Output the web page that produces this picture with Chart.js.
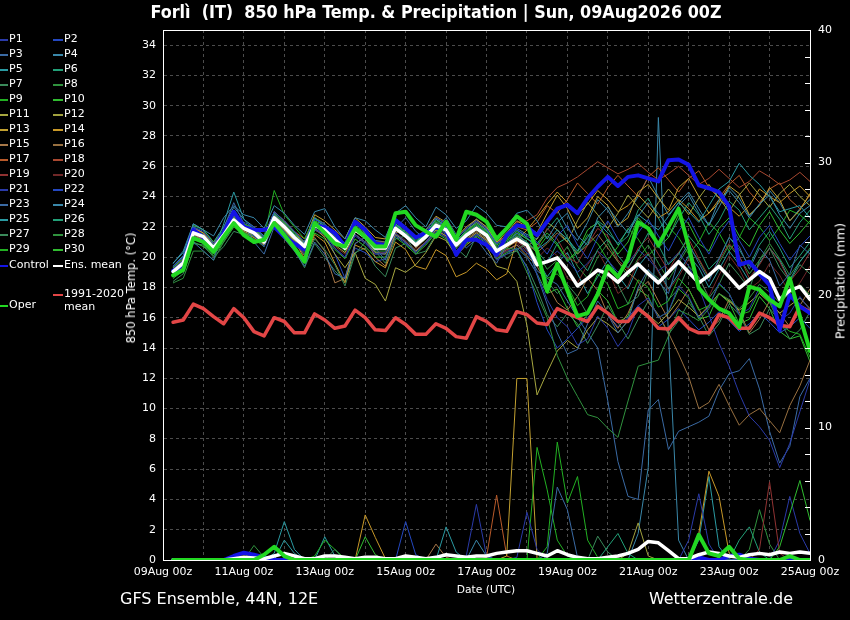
<!DOCTYPE html>
<html>
<head>
<meta charset="utf-8">
<script src="https://cdn.jsdelivr.net/npm/chart.js@4.4.1/dist/chart.umd.min.js"></script>
<style>
  body{margin:0;background:#000;}
  #wrap{position:relative;width:850px;height:620px;background:#000;overflow:hidden;color:#fff;font-family:"DejaVu Sans",sans-serif;}
  #c{position:absolute;left:0;top:0;}
  .t{position:absolute;white-space:nowrap;color:#fff;}
  .rot{transform:translate(-50%,-50%) rotate(-90deg);}
  .leg{position:absolute;font-size:11px;line-height:13px;white-space:nowrap;}
</style>
</head>
<body>
<div id="wrap">
  <canvas id="c" width="850" height="620"></canvas>
  <div class="t" style="left:0;width:872px;top:1px;text-align:center;font:bold 17.8px 'DejaVu Sans Condensed','DejaVu Sans',sans-serif;">Forlì&nbsp; (IT)&nbsp; 850 hPa Temp. &amp; Precipitation | Sun, 09Aug2026 00Z</div>
  <div class="t rot" style="left:131px;top:288px;font-size:11.5px;">850 hPa Temp. (°C)</div>
  <div class="t rot" style="left:840px;top:281px;font-size:12.5px;">Precipitation (mm)</div>
  <div class="t" style="left:486px;top:589px;transform:translate(-50%,-50%);font-size:10.7px;">Date (UTC)</div>
  <div class="t" style="left:120px;top:589px;font-size:16px;">GFS Ensemble, 44N, 12E</div>
  <div class="t" style="right:57px;top:589px;font-size:16px;">Wetterzentrale.de</div>
  <div id="legend"></div>
</div>
<script>
// x axis: 6-hourly steps, 09Aug 06z .. 25Aug 00z (hours after 09Aug 00z)
const hours = Array.from({length:64}, (_, k) => 6*(k+1));
const dateTicks = ['09Aug 00z','11Aug 00z','13Aug 00z','15Aug 00z','17Aug 00z','19Aug 00z','21Aug 00z','23Aug 00z','25Aug 00z'];

// 850 hPa temperature, ensemble members P1..P30
const tempMembers = [
 [19.2,19.8,21.4,21.0,20.3,21.6,22.8,22.1,21.4,20.7,22.3,21.7, 20.9,20.2,21.8,21.5,20.6,20.0,21.5,21.0,20.2,20.3,21.6,21.0,
  20.3,21.0,21.9,21.5,20.4,21.0,21.5,21.0,19.8,20.2,20.6,20.0, 18.9,17.2,16.0,15.4,14.2,14.6,16.1,15.3,14.1,15.0,16.8,17.3,
  16.0,16.4,18.1,17.4,16.0,16.7,18.3,17.6,16.2,16.6,18.0,17.1,15.8,16.3,17.4,16.5],
 [19.4,20.0,22.0,21.7,20.9,21.8,22.9,22.3,22.0,21.3,23.0,22.4, 21.7,21.0,22.5,22.2,21.4,20.9,22.2,21.7,20.9,20.9,22.3,21.8,
  21.2,21.8,22.6,22.2,21.2,21.9,22.4,21.9,20.9,21.3,21.8,21.4, 21.0,20.2,21.4,22.1,20.8,19.9,21.3,22.4,21.2,20.3,21.6,22.5,
  21.4,20.4,21.7,22.6,21.3,20.2,21.5,22.4,21.1,20.0,21.3,22.1,20.9,19.8,20.7,21.4],
 [18.9,19.4,21.0,20.4,19.8,21.9,23.6,22.2,21.0,20.2,22.0,21.2, 20.4,19.4,21.0,20.2,18.9,18.6,20.9,21.3,20.6,19.8,21.9,22.6,
  21.7,21.2,21.9,22.6,21.5,20.6,21.2,20.3,19.6,20.8,21.6,20.9, 18.8,16.9,15.0,13.6,13.9,15.6,17.1,16.2,15.0,15.8,18.0,19.2,
  18.4,17.6,19.8,20.9,19.6,18.4,19.9,21.3,20.7,19.2,20.6,19.8,18.1,18.9,20.8,20.2],
 [19.6,20.4,22.2,21.8,21.4,22.6,23.4,22.8,22.6,21.9,23.4,22.9, 22.1,21.5,23.0,23.2,22.0,21.2,22.6,22.4,21.8,21.3,22.9,23.4,
  22.6,22.0,23.3,22.8,21.9,22.4,23.4,22.9,22.1,22.0,22.9,23.1, 22.4,21.2,22.3,22.9,21.4,20.8,22.6,23.3,22.4,21.6,22.7,23.6,
  22.9,22.0,23.4,24.1,22.9,22.1,23.8,24.4,23.6,22.6,23.5,24.1,22.8,21.9,22.9,23.4],
 [19.6,20.3,22.0,21.2,20.3,22.2,24.3,22.5,21.8,21.2,22.8,22.1, 21.4,20.9,22.6,22.0,21.3,20.8,22.4,21.6,20.8,20.6,22.2,21.6,
  21.0,21.6,22.5,22.0,21.0,21.8,22.3,21.8,20.9,21.3,21.8,21.3, 20.5,21.0,21.8,21.2,20.4,21.3,22.3,21.6,20.9,21.8,22.8,22.3,
  21.8,22.7,23.6,23.0,22.3,23.4,24.5,25.0,26.2,25.4,24.8,24.0,23.0,23.2,23.4,22.6],
 [19.1,19.7,21.8,21.5,20.8,21.5,22.6,22.0,21.7,21.1,22.9,22.2, 21.5,20.8,22.3,22.0,21.2,20.6,22.0,21.5,20.7,20.7,22.1,21.5,
  20.9,21.5,22.3,21.9,20.9,21.6,22.1,21.6,20.5,21.0,21.4,21.0, 20.4,19.6,20.9,21.3,19.9,19.1,20.5,21.2,20.1,19.3,20.4,21.6,
  20.8,19.5,20.2,21.4,20.6,19.2,19.9,21.3,20.5,19.4,20.8,21.7,20.6,19.3,20.1,21.0],
 [18.4,18.9,20.9,20.8,20.0,20.7,21.7,21.5,21.4,20.9,22.6,21.6, 20.6,19.8,21.2,20.5,19.5,18.1,20.2,21.0,20.4,19.6,21.2,21.4,
  20.2,20.4,21.5,21.9,20.6,20.0,21.4,21.9,20.7,19.9,20.5,20.9, 19.8,18.4,17.6,18.2,17.4,16.2,17.6,18.9,18.2,16.9,17.4,19.1,
  18.6,17.2,17.9,19.4,18.7,17.3,18.2,19.6,18.8,17.9,19.8,20.6,19.3,18.4,19.5,18.9],
 [18.3,18.6,20.4,20.4,19.8,21.0,22.0,21.6,21.4,20.9,22.5,21.9, 21.2,20.6,22.0,21.7,21.0,20.4,21.7,21.2,20.4,20.4,21.8,21.3,
  20.7,21.2,22.0,21.6,20.6,21.3,21.8,21.3,20.2,20.6,20.5,19.0, 17.5,16.0,13.5,12.0,10.8,9.6,9.4,8.7,8.1,10.5,12.8,13.0,
  13.2,14.8,16.5,16.2,15.8,16.6,17.6,17.2,16.6,17.3,18.2,17.7,17.0,17.6,18.2,17.5],
 [18.9,19.4,21.7,21.4,20.7,21.7,22.9,22.2,21.9,21.3,24.4,22.8, 22.0,21.2,22.6,22.2,21.4,20.7,22.0,21.4,20.7,20.6,22.1,21.6,
  21.0,21.5,22.4,22.0,21.0,21.7,22.2,21.7,20.6,21.1,21.5,21.0, 19.8,18.6,18.9,18.1,16.8,17.4,18.9,18.2,16.6,16.9,18.5,18.0,
  16.7,17.1,18.6,17.9,16.5,16.8,18.2,17.6,16.2,16.4,17.7,17.0,15.6,15.1,14.9,13.4],
 [19.3,19.9,22.1,21.8,21.0,21.8,22.7,22.2,21.9,21.3,22.9,22.3, 21.6,21.0,22.4,22.1,21.4,20.9,22.1,21.6,20.9,20.8,22.2,21.7,
  21.1,21.6,22.5,22.1,21.1,21.7,22.2,21.7,20.8,21.2,21.7,21.2, 20.8,21.6,20.9,19.8,20.4,21.8,22.3,21.1,20.2,21.0,22.6,21.9,
  20.6,21.3,22.8,22.2,20.9,20.4,21.9,22.6,21.4,20.7,22.1,23.0,21.8,20.9,21.6,22.4],
 [18.8,19.3,21.3,21.0,20.4,21.3,22.3,21.8,21.5,20.9,22.5,21.8, 21.1,20.4,21.9,21.3,20.2,19.3,20.3,18.6,18.2,17.1,19.3,19.0,
  19.5,20.3,21.4,21.1,20.1,20.8,21.3,20.7,19.4,19.2,18.4,15.5, 10.9,12.4,13.8,14.5,14.0,15.2,16.0,15.6,15.0,15.8,16.7,16.2,
  15.6,16.3,17.2,16.7,16.1,16.8,17.6,17.1,16.5,17.0,17.6,17.0,16.3,16.8,17.3,16.6],
 [19.0,19.5,21.5,21.2,20.5,21.3,22.2,21.7,21.4,20.8,22.3,21.7, 21.0,20.5,21.8,21.5,20.8,20.3,21.5,21.0,20.3,20.2,21.5,21.0,
  20.4,21.0,21.8,21.4,20.4,21.1,21.6,21.1,20.2,20.6,21.1,20.7, 21.2,22.3,21.8,21.0,22.4,23.6,22.8,21.9,22.9,24.1,23.3,22.6,
  23.6,24.5,23.7,22.8,23.9,24.8,23.9,23.0,24.1,24.9,24.1,23.3,24.2,24.8,24.0,23.4],
 [19.1,19.8,21.9,21.6,20.9,21.7,22.6,22.0,21.8,21.2,22.7,22.1, 21.5,21.0,22.8,22.4,21.8,21.2,22.6,22.0,21.3,21.2,22.5,22.0,
  21.3,21.8,22.7,22.3,21.3,22.0,22.5,22.0,21.0,21.6,22.4,22.0, 21.6,22.9,24.1,23.2,21.9,22.6,24.0,23.4,22.1,22.6,24.3,24.8,
  23.9,23.1,24.6,25.2,24.0,22.9,23.6,24.7,24.2,22.8,23.4,24.6,23.8,22.4,23.1,24.2],
 [18.9,19.5,21.4,21.1,20.3,21.2,22.3,21.6,21.3,20.8,22.4,21.8, 21.1,19.9,21.5,21.0,19.6,18.3,20.8,20.5,19.7,19.3,21.0,20.5,
  19.4,19.2,20.5,20.1,18.7,19.0,19.6,19.2,18.5,18.9,21.1,21.8, 22.6,23.5,24.3,23.6,22.8,23.5,24.4,23.8,23.0,23.4,24.1,23.4,
  22.6,23.0,23.8,23.2,22.4,22.9,23.8,23.3,22.7,23.4,24.5,24.0,23.6,24.2,24.7,24.0],
 [19.0,19.6,21.5,21.3,20.7,21.6,22.6,22.0,21.7,21.2,22.6,22.0, 21.0,20.1,21.3,20.4,18.3,18.6,20.9,21.3,20.0,19.4,21.6,21.8,
  20.6,21.2,22.0,21.6,20.6,21.2,21.7,21.2,20.1,20.5,20.8,20.1, 19.4,18.2,17.0,16.5,17.4,18.6,17.8,16.2,15.3,16.3,17.8,18.4,
  17.1,15.9,16.8,17.9,16.6,15.2,15.8,17.2,16.4,15.0,15.9,17.1,16.3,15.4,16.8,17.9],
 [19.2,19.7,21.6,21.4,20.7,21.5,22.5,22.0,21.7,21.1,22.7,22.1, 21.4,20.8,22.2,21.9,21.2,20.6,21.9,21.4,20.6,20.6,21.9,21.4,
  20.8,21.4,22.2,21.8,20.8,21.5,22.0,21.5,20.5,20.9,21.4,21.0, 20.3,20.9,21.6,21.0,20.2,20.8,21.5,20.6,19.7,19.0,18.4,17.0,
  16.2,15.0,13.6,12.1,10.0,10.4,11.6,10.2,8.9,9.6,10.0,9.2,8.4,10.2,11.5,13.2],
 [19.3,19.9,21.9,21.6,20.9,21.7,22.7,22.2,21.9,21.3,23.0,22.4, 21.7,21.2,22.6,22.2,21.5,20.9,22.3,21.8,21.0,21.0,22.4,21.9,
  21.2,21.8,22.6,22.2,21.2,21.9,22.4,21.9,21.0,21.4,22.0,21.8, 22.3,23.4,22.9,23.8,24.9,24.2,23.5,24.6,25.4,24.7,24.0,25.3,
  25.9,25.1,24.3,25.2,25.7,24.6,23.9,24.8,25.4,24.3,23.6,24.5,24.9,23.8,23.2,24.1],
 [19.0,19.6,21.7,21.5,20.8,21.6,22.7,22.1,21.8,21.2,22.8,22.2, 21.5,20.9,22.3,22.0,21.3,20.7,22.0,21.5,20.8,20.7,22.0,21.5,
  20.9,21.5,22.3,21.9,20.9,21.7,22.3,21.8,20.9,21.4,22.3,22.4, 22.8,23.9,24.6,24.9,25.3,25.8,26.3,25.9,25.5,25.8,26.2,25.6,
  25.1,25.5,26.0,25.4,24.8,25.2,25.8,25.2,24.6,25.0,25.7,25.3,24.8,25.1,25.6,25.0],
 [19.1,19.6,21.5,21.2,20.5,21.4,22.3,21.8,21.5,20.9,22.4,21.9, 21.2,20.5,22.0,21.7,21.0,20.5,21.8,21.2,20.5,20.5,21.8,21.3,
  20.7,21.2,22.0,21.7,20.7,21.3,21.8,21.3,20.3,20.7,21.0,20.6, 20.6,21.9,21.2,20.0,19.6,20.8,21.9,21.4,19.8,19.2,20.6,21.3,
  20.2,19.1,20.3,21.2,19.9,18.7,19.8,20.9,20.1,18.6,19.5,20.6,19.7,18.4,19.2,20.3],
 [18.9,19.4,21.3,21.0,20.3,21.2,22.2,21.7,21.4,20.8,22.3,21.7, 21.0,20.3,21.8,21.4,20.7,20.2,21.5,21.0,20.3,20.3,21.6,21.1,
  20.5,21.0,21.8,21.4,20.4,21.1,21.6,21.1,20.0,20.4,20.9,20.4, 19.9,20.6,20.1,18.6,18.3,19.5,20.4,19.2,17.6,18.1,19.8,20.3,
  19.0,17.8,18.7,19.9,18.6,17.4,18.8,20.1,19.2,17.9,18.4,19.6,18.8,17.6,18.3,19.4],
 [19.0,19.5,21.5,21.1,20.4,21.3,22.4,21.8,21.4,20.9,22.4,21.8, 21.1,20.5,21.9,21.5,20.6,20.0,21.4,20.9,20.2,20.2,21.5,21.0,
  20.4,20.9,21.7,21.3,20.3,21.0,21.5,21.0,20.0,20.4,20.8,20.3, 19.4,19.8,20.4,19.8,19.0,19.6,20.4,19.8,19.0,19.6,20.5,19.9,
  19.1,19.6,20.3,19.4,18.0,16.2,14.3,12.8,11.0,9.5,8.8,7.9,6.1,7.7,9.8,11.9],
 [19.2,19.8,21.8,21.4,20.6,21.5,22.6,22.0,21.7,21.1,22.6,22.0, 21.2,20.5,22.0,21.6,20.2,18.6,20.6,20.3,19.7,19.9,21.4,20.9,
  20.4,21.0,21.8,21.4,20.4,21.1,21.6,21.1,20.1,20.4,20.5,19.3, 17.0,15.2,14.0,14.6,15.3,16.0,16.8,16.2,15.4,16.0,16.8,16.1,
  15.4,15.9,16.6,15.9,15.2,15.7,16.4,15.8,15.1,15.6,16.3,15.7,15.0,15.4,16.0,15.3],
 [19.3,20.0,22.0,21.6,20.8,21.7,22.7,22.1,21.8,21.2,22.8,22.2, 21.4,20.7,22.2,21.9,21.2,20.6,21.9,21.4,20.7,20.6,21.9,21.4,
  20.8,21.4,22.2,21.8,20.8,21.4,21.9,21.4,20.4,20.8,21.1,20.5, 19.1,18.6,18.2,17.1,16.0,15.0,14.0,10.5,6.5,4.2,4.0,9.9,
  10.6,7.3,8.5,8.8,9.1,9.5,11.2,12.3,12.5,13.3,11.3,8.5,6.4,7.5,10.8,12.0],
 [19.4,20.1,22.2,21.8,21.0,22.0,23.3,22.5,22.0,21.4,23.0,22.4, 21.6,21.0,22.5,22.2,21.5,20.9,22.3,21.8,21.1,21.0,22.4,21.9,
  21.2,21.8,22.6,22.2,21.2,21.9,22.5,22.0,21.0,21.4,21.9,21.5, 21.2,22.4,23.1,21.9,21.1,22.3,23.8,23.1,22.0,22.9,24.0,25.3,
  24.0,22.8,23.6,24.3,23.2,22.1,23.3,24.6,23.9,22.7,23.5,24.4,23.6,22.4,23.2,23.8],
 [19.0,19.6,21.6,21.3,20.6,21.5,22.5,21.9,21.6,21.0,22.5,21.9, 21.3,20.6,22.1,21.8,21.1,20.5,21.8,21.3,20.5,20.5,21.8,21.3,
  20.7,21.3,22.1,21.7,20.7,21.4,21.9,21.4,20.4,20.8,21.2,20.7, 19.9,18.7,19.6,20.3,18.9,17.6,18.7,19.8,18.8,17.9,19.4,20.2,
  19.1,17.9,18.9,20.1,19.3,18.0,19.2,20.4,19.5,18.4,19.6,20.6,19.8,18.5,19.7,20.5],
 [19.2,19.8,21.7,21.4,20.7,21.6,22.6,22.1,21.8,21.2,22.8,22.2, 21.5,20.9,22.3,22.0,21.3,20.7,22.0,21.5,20.8,20.8,22.1,21.6,
  21.0,21.5,22.3,22.0,21.0,21.6,22.1,21.6,20.7,21.1,21.6,21.2, 20.9,21.8,22.6,21.3,20.2,21.0,22.4,21.9,20.8,21.4,23.1,23.9,
  22.6,21.3,22.5,23.6,22.8,21.5,22.4,23.7,23.1,21.8,22.6,23.4,22.5,21.2,22.3,23.1],
 [18.8,19.3,21.2,20.9,20.2,21.1,22.2,21.6,21.3,20.7,22.3,21.7, 20.5,19.3,20.9,20.0,19.1,18.4,20.3,20.6,19.4,18.7,20.6,20.9,
  20.3,20.9,21.7,21.3,20.3,21.0,21.5,21.0,19.9,20.2,20.4,19.4, 17.9,16.2,15.4,16.3,15.6,14.3,15.5,16.8,15.7,14.6,15.9,17.1,
  16.2,14.9,15.8,17.0,16.1,14.8,15.6,16.9,16.2,14.9,15.3,16.6,15.8,14.6,15.2,16.4],
 [19.1,19.7,21.6,21.3,20.6,21.5,22.5,22.0,21.7,21.2,22.7,22.1, 21.4,20.8,22.2,21.9,21.2,20.6,21.9,21.4,20.6,20.6,22.0,21.5,
  20.9,21.4,22.2,21.8,20.8,21.5,22.0,21.5,20.5,20.9,21.3,20.9, 20.3,19.2,19.8,20.7,19.4,18.6,20.0,20.9,19.7,18.7,19.9,20.8,
  19.6,18.5,19.6,20.7,19.8,18.6,19.6,20.8,20.0,18.9,19.8,20.9,19.9,18.8,19.7,20.6],
 [19.0,19.5,21.4,21.1,20.5,21.4,22.3,21.8,21.5,21.0,22.6,22.0, 21.3,20.7,22.1,21.8,21.1,20.5,21.8,21.3,20.5,20.5,21.8,21.3,
  20.7,21.3,22.1,21.7,20.7,21.4,21.9,21.4,20.4,20.8,21.2,20.8, 20.5,21.4,20.8,19.7,20.3,21.5,20.9,19.8,20.7,21.9,21.2,20.1,
  20.8,22.0,21.3,20.2,21.0,22.3,21.6,20.4,21.3,22.6,22.0,21.1,22.0,23.1,22.8,22.2],
 [18.6,19.1,21.0,20.7,20.1,21.0,22.0,21.5,21.2,20.7,22.2,21.6, 20.9,20.2,21.6,21.2,20.5,19.9,21.2,20.7,20.0,20.0,21.3,20.8,
  20.2,20.8,21.6,21.2,20.2,20.9,21.4,20.9,19.9,20.3,20.6,20.0, 18.9,17.6,17.9,16.6,15.4,16.2,17.8,17.1,15.7,16.1,17.9,17.4,
  16.0,16.4,17.9,17.3,15.9,16.1,17.6,17.0,15.6,15.9,17.4,16.6,15.1,14.6,14.8,13.1]
];

const controlTemp = [19.1,19.5,21.8,21.3,20.5,21.6,23.0,22.0,21.8,21.8,22.0,21.35,20.9,20.5,22.1,22.0,
  21.6,20.7,22.35,21.8,20.9,20.8,22.45,21.9,21.3,21.6,22.0,21.8,20.15,21.15,21.15,20.8,
  20.15,21.45,22.1,22.0,21.45,22.35,23.2,23.45,22.9,23.9,24.65,25.3,24.7,25.3,25.4,25.2,
  25.0,26.4,26.45,26.1,24.75,24.55,24.3,23.35,19.5,19.7,18.9,18.15,15.2,17.5,16.75,16.3];
const ensMeanTemp = [19.05,19.6,21.6,21.35,20.6,21.45,22.45,21.9,21.6,21.0,22.6,22.0,21.3,20.7,22.1,21.8,
  21.15,20.6,21.8,21.35,20.6,20.6,21.9,21.4,20.8,21.35,22.1,21.8,20.8,21.45,21.9,21.45,
  20.4,20.8,21.2,20.8,19.5,19.7,19.95,19.15,18.1,18.6,19.15,18.9,18.35,19.0,19.55,18.9,
  18.3,19.0,19.7,19.0,18.3,18.8,19.4,18.7,17.95,18.5,19.05,18.6,17.2,17.8,18.05,17.2];
const operTemp = [18.8,19.15,21.25,21.0,20.35,21.35,22.25,21.45,21.0,21.15,22.25,21.45,20.6,19.7,22.25,21.6,
  20.9,20.7,21.9,21.35,20.7,20.7,22.9,23.0,22.1,21.7,21.35,22.35,21.15,23.0,22.8,22.35,
  21.2,21.9,22.7,22.2,20.4,17.75,19.55,17.8,16.1,16.3,17.55,19.4,18.7,19.9,22.3,21.9,
  20.8,22.0,23.2,20.7,17.95,17.2,16.6,16.3,15.4,18.05,17.85,17.2,16.75,18.6,16.1,13.8];
const climMean = [15.7,15.85,16.9,16.6,16.07,15.6,16.6,16.0,15.08,14.8,16.0,15.75,15.0,15.0,16.25,15.85,
  15.3,15.45,16.5,16.0,15.2,15.15,16.0,15.55,14.9,14.9,15.6,15.3,14.75,14.65,16.07,15.75,
  15.2,15.1,16.4,16.2,15.65,15.55,16.6,16.3,16.0,15.75,16.75,16.3,15.75,15.75,16.6,16.07,
  15.3,15.25,16.0,15.3,15.0,15.0,16.2,16.0,15.3,15.3,16.3,16.0,15.5,15.4,16.75,16.4];

// 6-hourly precipitation (mm)
const controlPrecip = [0,0,0,0,0,0,0.3,0.55,0.4,0.2,0,0,0,0,0,0, 0,0,0,0,0,0,0,0,0,0,0,0,0,0,0,0,
  0,0,0,0,0,0,0,0,0,0,0,0,0,0,0,0, 0,0,0,0,0.2,0,0,0.3,0.4,0.1,0,0,0,0,0,0];
const operPrecip = [0,0,0,0,0,0,0,0,0,0.4,1.0,0.3,0,0,0,0, 0,0,0,0,0,0,0,0,0,0,0,0,0,0,0,0,
  0,0,0,0,0,0,0,0,0,0,0,0,0,0,0,0, 0,0,0,0,1.9,0.5,0.3,1.0,0.1,0,0,0,0,0.3,0,0];
const ensMeanPrecip = [0,0,0,0,0,0,0.1,0.2,0.15,0.1,0.3,0.5,0.3,0.1,0.1,0.3, 0.3,0.2,0.1,0.2,0.2,0.1,0.1,0.3,0.2,0.1,0.2,0.4,0.3,0.2,0.3,0.3,
  0.5,0.6,0.7,0.7,0.5,0.3,0.7,0.4,0.2,0.1,0.1,0.2,0.3,0.5,0.8,1.4, 1.3,0.7,0.1,0.1,0.4,0.6,0.5,0.3,0.2,0.4,0.5,0.4,0.6,0.5,0.6,0.5];
const precipMembers = {
  1: [0,0,0,0,0,0,0,0,0,0,0,0,0,0,0,0, 0,0,0,0,0,0,0,0,0,0,0,0,0,0,0,0,
      0,0,0.2,3.6,0.8,0,0,0,0,0,0,0,0,0,0,0, 0,0,0,1.5,5.0,1.2,0,0,0,0,0,0,0,0,0,0],
  3: [0,0,0,0,0,0,0,0,0,0,0,0,0,0,0,0, 0,0,0,0,0,0,0,0,0,0,0,0,0,0,0,0,
      0,0,0,0,0,0.5,5.5,3.8,0.2,0,0,0,0,0,0,0, 0,0,0,0,0,0,0,0,0,0,0,0,0,0,0,0],
  5: [0,0,0,0,0,0,0,0,0,0,0.5,2.9,0.8,0,0,0, 0,0,0,0,0,0,0,0,0,0,0,2.5,0.6,0,0,0,
      0,0,0,0,0,0,0,0,0,0,0,0,0,0,0,0, 0,0,0,0,0,0,0,0,0,0,0,0,0,0,0,0],
  6: [0,0,0,0,0,0,0,0,0,0,0,0,0,0,0,0, 0,0,0,0,0,0,0,0,0,0,0,0,0,0,0,0,
      0,0,0,0,0,0,0,0,0,0,0,1.0,2.0,0.5,0,0, 0,0,0,0,0,0,0,0,0,0,0,0,0,0,0,0],
  7: [0,0,0,0,0,0,0,0,0,0,0,0,0,0,0,0, 0.8,0,0,0,0,0,0,0,0,0,0,0,0,0,0,0,
      0,0,0,0,0,0,0,0,0,0,1.8,0.6,0,0,0,0, 0,0,0,0,0,0,0,0,0,0,0,0,0,0,0,0],
  8: [0,0,0,0,0,0,0,0,1.1,0.2,0,0,0,0,0,0, 0,0,0,0,0,0,0,0,0,0,0,0,0,0,0,0,
      0,0,0,0,0,0,0,0,0,0,0,0,0,0,0,0, 0,0,0,0,0,0,0,0,0,0,0,0,0,0,0,0],
  9: [0,0,0,0,0,0,0,0,0,0,0,0,0,0,0.3,1.5, 0.8,0.1,0,0,0,0,0,0,0,0,0,0,0,0,0,0,
      0,0,0,0,8.5,5.3,1.5,0.3,0,0,0,0,0,0,0,0, 0,0,0,0,0,0,0,0,0,0,0,0,0,0,0,0],
  10: [0,0,0,0,0,0,0,0,0,0,0,0,0,0,0,0, 0,0,0,1.75,0.4,0,0,0,0,0,0,0,0,0,0,0,
      0,0,0,0,0,0,0,0,0,0,0,0,0,0,0,0, 0,0,0,0,0,0,0,0,0,0,0,0,1.0,3.5,6.0,3.0],
  12: [0,0,0,0,0,0,0,0,0,0,0,0,0,0,0,0, 0,0,0,0,0,0,0,0,0,0,0,0,0,0,0,0,
      0,0,0,0,0,0,0,0,0,0,0,0,0,0.5,2.8,0.3, 0,0,0,0,0,0,0,0,0,0,0,0,0,0,0,0],
  13: [0,0,0,0,0,0,0,0,0,0,0,0,0,0,0,0, 0,0,0,0,0,0,0,0,0,0,0,0,0,0,0,0,
      0,0.3,13.7,13.7,0.1,0,0,0,0,0,0,0,0,0,0,0, 0,0,0,0,0,0,0,0,0,0,0,0,0,0,0,0],
  14: [0,0,0,0,0,0,0,0,0,0,0,0,0,0,0,0, 0,0,0,3.4,1.7,0.1,0,0,0,0,0,0,0,0,0,0,
      0,0,0,0,0,0,0,0,0,0,0,0,0,0,0,0, 0,0,0,0,2.0,6.7,4.8,0.5,0,0,0,0,0,0,0,0],
  15: [0,0,0,0,0,0,0,0,0,0,0,0,0,0,0,0, 0,0,0,0,0,0,0,0,0,0,1.2,0.2,0,0,0,0,
      0,0,0,0,0,0,0,0,0,0,0,0,0,0,0,0, 0,0,0,0,0,0,0,0,0,0,0,0,0,0,0,0],
  17: [0,0,0,0,0,0,0,0,0,0,0,0,0,0,0,0, 0,0,0,0,0,0,0,0,0,0,0,0,0,0,0,0.2,
      4.9,0.3,0,0,0,0,0,0,0,0,0,0,0,0,0,0, 0,0,0,0,0,0,0,0,0,0,0,0,0,0,0,0],
  19: [0,0,0,0,0,0,0,0,0,0,0,0,0,0,0,0, 0,0,0,0,0,0,0,0,0,0,0,0,0,0,0,0,
      0,0,0,0,0,0,0,0,0,0,0,0,0,0,0,0, 0,0,0,0,0,0,0,0,0,0,0.8,5.9,0.5,0,0,0],
  21: [0,0,0,0,0,0,0,0,0,0,0,0,0,0,0,0, 0,0,0,0,0,0,0,0,0,0,0,0,0,0.3,4.2,0.3,
      0,0,0,0,0,0,0,0,0,0,0,0,0,0,0,0, 0,0,0,0,0,0,0,0,0,0,0,0,1.5,4.8,2.0,0.5],
  22: [0,0,0,0,0,0,0,0,0,0,0,0,0,0,0,0, 0,0,0,0,0,0,0,2.9,0.4,0,0,0,0,0,0,0,
      0,0,0,0,0,0,0,0,0,0,0,0,0,0,0,0, 0,0,0,0,0,0,0,0,0,0,0,0,0,0,0,0],
  24: [0,0,0,0,0,0,0,0,0,0,0,0,0,0,0,0, 0,0,0,0,0,0,0,0,0,0,0,0,0,0,1.5,0.3,
      0,0,0,0,0,0,0,0,0,0,0,0,0,0,2.0,7.0, 33.4,17.0,1.5,0,0,0,0,0,0,0,0,0,0,0,0,0],
  25: [0,0,0,0,0,0,0,0,0,0,0,1.5,0.5,0,0,1.75, 0.3,0,0,0,0,0,0,0,0,0,0,0,0,0,0,0,
      0,0,0,0,0,0,0,0,0,0,0,0,0,0,0,0, 0,0,0,0,1.5,6.3,1.0,0,0,0,0,0,0,0,0,0],
  26: [0,0,0,0,0,0,0,0,0,0,0,0,0,0,0,0, 0,0,0,0,0,0,0,0,0,0,0,0,0,0,0,0,
      0,0,0,0,0,0,0,0,0,0,0,0,0,0,0,0, 0,0,0,0,0,0,0,0,1.5,2.5,0.6,0,0,0,0,0],
  28: [0,0,0,0,0,0,0,0,0,0,0,0,0,0,0,0, 0,0,0,0,0,0,0,0,0,0,0,0,0,0,0,0,
      0,0,0,0,0,0,0,0,0,0,0,0,0,0,0,0, 0,0,0,0,0,0,0,0,0,0.8,3.8,1.2,0,0,0,0],
  29: [0,0,0,0,0,0,0,0,0,0,0,0,0,0,0,0, 0,0,0,0,0,0,0,0,0,0,0,0,0,0,0,0,
      0,0,0,0,0,1.0,8.9,4.3,6.3,1.5,0.2,0,0,0,0,0, 0,0,0,0,0,0,0,0,0,0,0,0,0,0,0,0]
};

const palette = ['#2a3aa8','#2448c0','#3a6aa4','#3a88aa','#2a9aa2','#22a078','#3a8a5a','#30923e','#22b022','#30bc30',
                 '#a8a840','#a2a23e','#c2a030','#c89828','#a87848','#987040','#b85a2a','#a84830','#903232','#702828'];
const memberColor = k => palette[(k - 1) % 20];

[...tempMembers, controlTemp, ensMeanTemp, operTemp, climMean, controlPrecip, operPrecip, ensMeanPrecip, ...Object.values(precipMembers)]
  .forEach((a, n) => { if (a.length !== 64) throw new Error('series ' + n + ' has ' + a.length + ' values'); });

const pts = arr => arr.map((v, k) => ({x: hours[k], y: v}));
const line = (label, arr, color, width, axis, order) =>
  ({label, data: pts(arr), borderColor: color, borderWidth: width, yAxisID: axis, order, pointRadius: 0, fill: false});

const datasets = [];
tempMembers.forEach((arr, k) => datasets.push(line('P' + (k + 1), arr, memberColor(k + 1), 1, 'yT', 10)));
Object.keys(precipMembers).forEach(k => datasets.push(line('P' + k + ' precip', precipMembers[k], memberColor(+k), 1, 'yP', 10)));
datasets.push(line('1991-2020 mean', climMean, '#e24646', 3.5, 'yT', 5));
datasets.push(line('Control', controlTemp, '#1414e6', 4, 'yT', 4));
datasets.push(line('Control precip', controlPrecip, '#1414e6', 4, 'yP', 4));
datasets.push(line('Ens. mean', ensMeanTemp, '#ffffff', 3.5, 'yT', 3));
datasets.push(line('Ens. mean precip', ensMeanPrecip, '#ffffff', 3.5, 'yP', 3));
datasets.push(line('Oper', operTemp, '#22d822', 4, 'yT', 2));
datasets.push(line('Oper precip', operPrecip, '#22d822', 4, 'yP', 2));

const tickFont = {family: '"DejaVu Sans", sans-serif', size: 11};
const gridColor = '#4c4c4c';

// white frame and the short inward ticks of the precipitation axis
const framePlugin = {
  id: 'frame',
  afterDraw(chart) {
    const {ctx, chartArea: a} = chart;
    const yP = chart.scales.yP;
    ctx.save();
    ctx.strokeStyle = '#fff';
    ctx.lineWidth = 1;
    ctx.strokeRect(a.left + 0.5, a.top + 0.5, a.right - a.left, a.bottom - a.top);
    ctx.beginPath();
    for (let v = 0; v <= 40; v += 2) {
      const y = Math.round(yP.getPixelForValue(v)) + 0.5;
      ctx.moveTo(a.right - 5, y);
      ctx.lineTo(a.right, y);
    }
    ctx.stroke();
    ctx.restore();
  }
};

new Chart(document.getElementById('c'), {
  type: 'line',
  data: {datasets},
  options: {
    responsive: false,
    animation: false,
    events: [],
    layout: {padding: {left: 124, right: 0, top: 30, bottom: 24}},
    elements: {line: {tension: 0, borderJoinStyle: 'round', borderCapStyle: 'round'}, point: {radius: 0}},
    plugins: {legend: {display: false}, tooltip: {enabled: false}},
    scales: {
      x: {
        type: 'linear', min: 0, max: 384,
        afterFit: s => { s.height = 36; },
        ticks: {stepSize: 24, autoSkip: false, maxRotation: 0, color: '#fff', font: tickFont, padding: 6,
                callback: v => (v % 48 === 0 ? dateTicks[v / 48] : '')},
        grid: {color: gridColor, drawTicks: false},
        border: {color: '#fff', dash: [3, 3]}
      },
      yT: {
        position: 'left', min: 0, max: 35,
        afterFit: s => { s.width = 39; },
        ticks: {stepSize: 2, autoSkip: false, color: '#fff', font: tickFont, padding: 7,
                callback: v => (v <= 34 ? v : null)},
        grid: {color: gridColor, drawTicks: false},
        border: {color: '#fff', dash: [3, 3]}
      },
      yP: {
        position: 'right', min: 0, max: 40,
        afterFit: s => { s.width = 40; },
        ticks: {stepSize: 2, autoSkip: false, color: '#fff', font: tickFont, padding: 8,
                callback: v => (v % 10 === 0 ? v : '')},
        grid: {drawOnChartArea: false, drawTicks: false},
        border: {color: '#fff'}
      }
    }
  },
  plugins: [framePlugin]
});

// legend down the left side, two columns
const legend = document.getElementById('legend');
function addLegend(text, color, col, y) {
  const d = document.createElement('div');
  d.className = 'leg';
  const lx = col === 1 ? 0 : 53;
  d.style.left = (lx + (col === 1 ? 9 : 11)) + 'px';
  d.style.top = (y - 7) + 'px';
  d.innerHTML = text;
  legend.appendChild(d);
  const s = document.createElement('div');
  s.style.cssText = 'position:absolute;height:2px;width:' + (col === 1 ? 8 : 10) + 'px;left:' + lx + 'px;top:' + y + 'px;background:' + color;
  legend.appendChild(s);
}
for (let k = 1; k <= 30; k++) {
  addLegend('P' + k, memberColor(k), k % 2 ? 1 : 2, 39 + Math.floor((k - 1) / 2) * 15);
}
addLegend('Control', '#1414e6', 1, 265);
addLegend('Ens. mean', '#ffffff', 2, 265);
addLegend('1991-2020<br>mean', '#e24646', 2, 294);
addLegend('Oper', '#22d822', 1, 305);
</script>
</body>
</html>
